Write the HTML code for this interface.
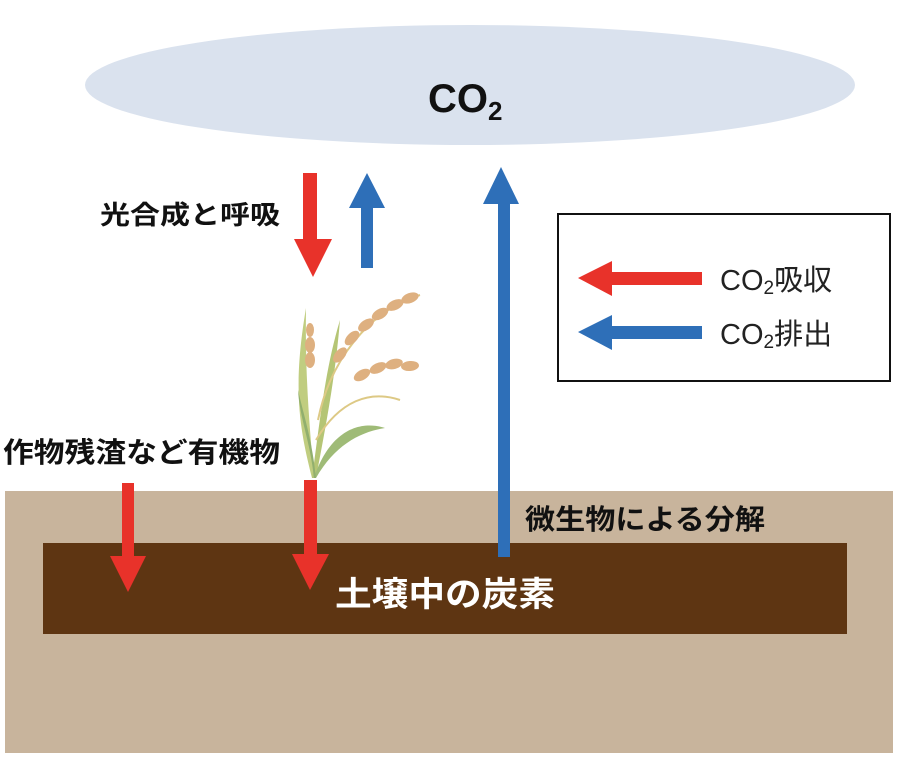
<!DOCTYPE html>
<html><head><meta charset="utf-8"><style>
body{margin:0;background:#fff;}
svg{display:block;}
text{font-family:"Liberation Sans","Noto Sans CJK JP",sans-serif;}
</style></head><body>
<svg width="900" height="760" viewBox="0 0 900 760" xmlns="http://www.w3.org/2000/svg">
<ellipse cx="470" cy="85" rx="385" ry="60" fill="#dae2ee"/>
<text x="428" y="112" font-size="40" font-weight="bold" fill="#111">CO<tspan font-size="26" dy="8">2</tspan></text>

<rect x="5" y="491" width="888" height="262" fill="#c8b49c"/>
<rect x="43" y="543" width="804" height="91" fill="#5e3512"/>

<rect x="303" y="173" width="14" height="68" fill="#e8322a"/>
<polygon points="294,239 332,239 313,277" fill="#e8322a"/>
<rect x="361" y="205" width="12" height="63" fill="#2e6fb8"/>
<polygon points="349,208 385,208 367,173" fill="#2e6fb8"/>
<rect x="498" y="200" width="12" height="357" fill="#2e6fb8"/>
<polygon points="483,204 519,204 501,167" fill="#2e6fb8"/>

<g opacity="0.85">
<path d="M312,478 C300,430 292,390 306,308 C305,380 310,430 314,478Z" fill="#b6c56a"/>
<path d="M312,478 C320,420 325,370 340,320 C335,380 325,430 316,478Z" fill="#a9bb5e"/>
<path d="M314,478 C330,430 360,420 385,428 C360,432 335,445 316,478Z" fill="#8fb060"/>
<path d="M314,478 C310,440 300,420 298,390 C305,420 312,440 316,478Z" fill="#7ea255"/>
<path d="M316,440 C340,400 370,390 400,400" stroke="#d8c070" stroke-width="2" fill="none"/>
<path d="M318,420 C330,360 370,310 420,295" stroke="#d8c070" stroke-width="2" fill="none"/>
<g fill="#d9a36a">
<ellipse cx="340" cy="355" rx="5" ry="9" transform="rotate(40 340 355)"/>
<ellipse cx="352" cy="338" rx="5" ry="9" transform="rotate(45 352 338)"/>
<ellipse cx="366" cy="325" rx="5" ry="9" transform="rotate(55 366 325)"/>
<ellipse cx="380" cy="314" rx="5" ry="9" transform="rotate(60 380 314)"/>
<ellipse cx="395" cy="305" rx="5" ry="9" transform="rotate(65 395 305)"/>
<ellipse cx="410" cy="298" rx="5" ry="9" transform="rotate(70 410 298)"/>
<ellipse cx="362" cy="375" rx="5" ry="9" transform="rotate(60 362 375)"/>
<ellipse cx="378" cy="368" rx="5" ry="9" transform="rotate(65 378 368)"/>
<ellipse cx="394" cy="364" rx="5" ry="9" transform="rotate(75 394 364)"/>
<ellipse cx="410" cy="366" rx="5" ry="9" transform="rotate(85 410 366)"/>
<ellipse cx="310" cy="345" rx="5" ry="8"/>
<ellipse cx="310" cy="360" rx="5" ry="8"/>
<ellipse cx="310" cy="330" rx="4" ry="7"/>
</g>
</g>

<rect x="122" y="483" width="12" height="75" fill="#e8322a"/>
<polygon points="110,556 146,556 128,592" fill="#e8322a"/>
<rect x="304" y="480" width="13" height="76" fill="#e8322a"/>
<polygon points="292,554 329,554 310,590" fill="#e8322a"/>

<rect x="558" y="214" width="332" height="167" fill="#fff" stroke="#111" stroke-width="2"/>
<rect x="608" y="272" width="94" height="13" fill="#e8322a"/>
<polygon points="612,261 612,296 578,278" fill="#e8322a"/>
<rect x="608" y="326" width="94" height="13" fill="#2e6fb8"/>
<polygon points="612,315 612,350 578,332" fill="#2e6fb8"/>
<text x="720" y="290" font-size="29" fill="#222">CO<tspan font-size="19" dy="4">2</tspan><tspan dy="-4">吸収</tspan></text>
<text x="720" y="344" font-size="29" fill="#222">CO<tspan font-size="19" dy="4">2</tspan><tspan dy="-4">排出</tspan></text>

<text x="100" y="224" font-size="26" font-weight="bold" fill="#111" textLength="180" lengthAdjust="spacingAndGlyphs">光合成と呼吸</text>
<text x="3" y="462" font-size="28" font-weight="bold" fill="#111" textLength="277" lengthAdjust="spacingAndGlyphs">作物残渣など有機物</text>
<text x="525" y="529" font-size="28" font-weight="bold" fill="#111" textLength="240" lengthAdjust="spacingAndGlyphs">微生物による分解</text>
<text x="335" y="606" font-size="34" font-weight="bold" fill="#fff" textLength="220" lengthAdjust="spacingAndGlyphs">土壌中の炭素</text>
</svg>
</body></html>
